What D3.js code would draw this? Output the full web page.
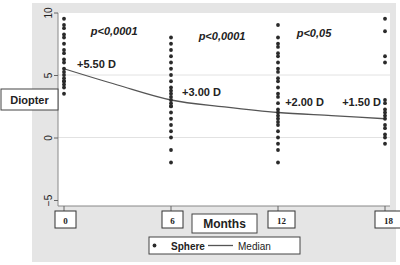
<!DOCTYPE html>
<html>
<head>
<meta charset="utf-8">
<script src="https://cdn.jsdelivr.net/npm/d3@7"></script>
<style>
  body { margin: 0; background: #fff; }
  svg { display: block; font-family: "Liberation Sans", Arial, sans-serif; }
</style>
</head>
<body>
<svg id="chart"></svg>
<script>
// Visits (months) and the sphere values measured at each one
const months = [0, 6, 12, 18];
const sphere0 = [9.5, 9.0, 8.75, 8.25, 8.0, 7.5, 7.0, 6.75, 6.25, 6.0, 5.5, 5.25, 5.0, 4.75, 4.5, 4.5, 4.25, 4.0, 3.5];
const sphere6 = [8.0, 7.5, 7.0, 6.5, 6.0, 5.5, 5.0, 4.5, 4.0, 3.75, 3.5, 3.25, 3.0, 2.75, 2.5, 2.5, 2.0, 1.5, 1.0, 0.5, 0.0, -1.0, -2.0];
const sphere12 = [9.0, 8.0, 7.5, 7.25, 6.75, 6.5, 6.0, 5.5, 5.25, 4.75, 4.5, 4.0, 3.5, 3.25, 2.75, 2.25, 2.0, 1.75, 1.5, 1.25, 1.0, 0.5, 0.0, -0.5, -1.0, -2.0];
const sphere18 = [9.5, 8.5, 6.5, 6.0, 3.0, 2.75, 2.25, 2.0, 1.75, 1.5, 1.0, 0.75, 0.25, 0.0, -0.5];

// Fitted median curve
const medianMonths = [0, 3, 6, 9, 12, 15, 18];
const medianValues = [5.5, 4.2, 3.0, 2.45, 2.0, 1.75, 1.5];

const yTicks = [10, 5, 0, -5];
const gridTicks = [5, 0];

// Annotations
const pLabels = [
  {text: "p<0,0001", month: 1.5, value: 8.2},
  {text: "p<0,0001", month: 7.55, value: 7.8},
  {text: "p<0,05", month: 13.05, value: 8.05}
];
const medianLabels = [
  {text: "+5.50 D", month: 0.73, value: 5.55},
  {text: "+3.00 D", month: 6.62, value: 3.3},
  {text: "+2.00 D", month: 12.4, value: 2.5},
  {text: "+1.50 D", month: 15.6, value: 2.5}
];

const W = 400, H = 265;
const svg = d3.select("#chart").attr("width", W).attr("height", H);

const plot = {left: 58, right: 390, top: 13, bottom: 206};

const x = d3.scaleLinear().domain([0, 18]).range([64, 385]);
const y = d3.scaleLinear().domain([-5, 10]).range([200, 12.5]);

// outer gray panel
svg.append("rect")
  .attr("x", 32).attr("y", 3).attr("width", 364).attr("height", 259)
  .attr("fill", "#e5e5e5");

// white plot region
svg.append("rect")
  .attr("x", plot.left).attr("y", plot.top)
  .attr("width", plot.right - plot.left).attr("height", plot.bottom - plot.top)
  .attr("fill", "#fff");

// grid
svg.append("g").selectAll("line")
  .data(gridTicks)
  .join("line")
  .attr("x1", plot.left).attr("x2", plot.right)
  .attr("y1", d => y(d)).attr("y2", d => y(d))
  .attr("stroke", "#e2e2e2").attr("stroke-width", 1);

// y axis
const yAxis = d3.axisLeft(y).tickValues(yTicks).tickSize(4).tickSizeOuter(0).tickFormat(d3.format("d"));
const yAxisG = svg.append("g")
  .attr("transform", `translate(${plot.left},0)`)
  .call(yAxis);
yAxisG.select(".domain").attr("stroke", "#888").attr("d", `M0,${plot.top}V${plot.bottom}`);
yAxisG.selectAll(".tick line").attr("stroke", "#666");
yAxisG.selectAll(".tick text")
  .attr("font-size", 10).attr("fill", "#222")
  .attr("text-anchor", "middle")
  .attr("x", 0).attr("y", 0).attr("dy", "0")
  .attr("transform", "translate(-6,0) rotate(-90)");

// x axis line and ticks
svg.append("line")
  .attr("x1", plot.left).attr("x2", plot.right)
  .attr("y1", plot.bottom).attr("y2", plot.bottom)
  .attr("stroke", "#888");

const xt = svg.append("g").selectAll("g")
  .data(months)
  .join("g")
  .attr("transform", d => `translate(${x(d)},${plot.bottom})`);
xt.append("line").attr("y1", 0).attr("y2", 5).attr("stroke", "#666");
xt.append("rect")
  .attr("x", d => d < 10 ? -9 : -10)
  .attr("y", 5)
  .attr("width", d => d < 10 ? 21 : 27)
  .attr("height", 17)
  .attr("fill", "#fff").attr("stroke", "#333").attr("stroke-width", 1);
xt.append("text")
  .attr("x", d => d < 10 ? 1.5 : 3.5)
  .attr("y", 17.5)
  .attr("text-anchor", "middle")
  .attr("font-family", "'Liberation Serif', 'Times New Roman', serif")
  .attr("font-weight", "bold")
  .attr("font-size", 9)
  .attr("fill", "#222")
  .text(d => d);

// median curve
const line = d3.line()
  .x((d, i) => x(medianMonths[i]))
  .y(d => y(d))
  .curve(d3.curveMonotoneX);
svg.append("path")
  .attr("d", line(medianValues))
  .attr("fill", "none").attr("stroke", "#555").attr("stroke-width", 1.3);

// sphere points
const columns = [sphere0, sphere6, sphere12, sphere18];
const pts = columns.flatMap((vals, i) => vals.map(v => ({m: months[i], v})));
svg.append("g").selectAll("circle")
  .data(pts)
  .join("circle")
  .attr("cx", d => x(d.m)).attr("cy", d => y(d.v))
  .attr("r", 1.9)
  .attr("fill", "#2a2a2a");

// p-value labels
svg.append("g").selectAll("text")
  .data(pLabels)
  .join("text")
  .attr("x", d => x(d.month)).attr("y", d => y(d.value))
  .attr("font-size", 11).attr("font-weight", "bold").attr("font-style", "italic")
  .attr("fill", "#222")
  .text(d => d.text);

// median value labels
svg.append("g").selectAll("text")
  .data(medianLabels)
  .join("text")
  .attr("x", d => x(d.month)).attr("y", d => y(d.value))
  .attr("font-size", 11).attr("font-weight", "bold")
  .attr("fill", "#222")
  .text(d => d.text);

// y axis title box
svg.append("rect")
  .attr("x", 1).attr("y", 89).attr("width", 57).attr("height", 21)
  .attr("fill", "#fff").attr("stroke", "#444");
svg.append("text")
  .attr("x", 29.5).attr("y", 104)
  .attr("text-anchor", "middle")
  .attr("font-size", 11).attr("font-weight", "bold").attr("fill", "#222")
  .text("Diopter");

// x axis title box
svg.append("rect")
  .attr("x", 192).attr("y", 214).attr("width", 65).attr("height", 19)
  .attr("fill", "#fff").attr("stroke", "#444");
svg.append("text")
  .attr("x", 224.5).attr("y", 228)
  .attr("text-anchor", "middle")
  .attr("font-size", 12).attr("font-weight", "bold").attr("fill", "#222")
  .text("Months");

// legend
const lg = svg.append("g").attr("transform", "translate(149,237)");
lg.append("rect").attr("width", 151).attr("height", 17)
  .attr("fill", "#fff").attr("stroke", "#444");
lg.append("circle").attr("cx", 5.5).attr("cy", 8.5).attr("r", 1.9).attr("fill", "#2a2a2a");
lg.append("text").attr("x", 22).attr("y", 12.5)
  .attr("font-size", 10).attr("font-weight", "bold").attr("fill", "#222")
  .text("Sphere");
lg.append("line").attr("x1", 59).attr("x2", 84).attr("y1", 8.5).attr("y2", 8.5)
  .attr("stroke", "#555").attr("stroke-width", 1.3);
lg.append("text").attr("x", 89).attr("y", 12.5)
  .attr("font-size", 10).attr("fill", "#222")
  .text("Median");
</script>
</body>
</html>
